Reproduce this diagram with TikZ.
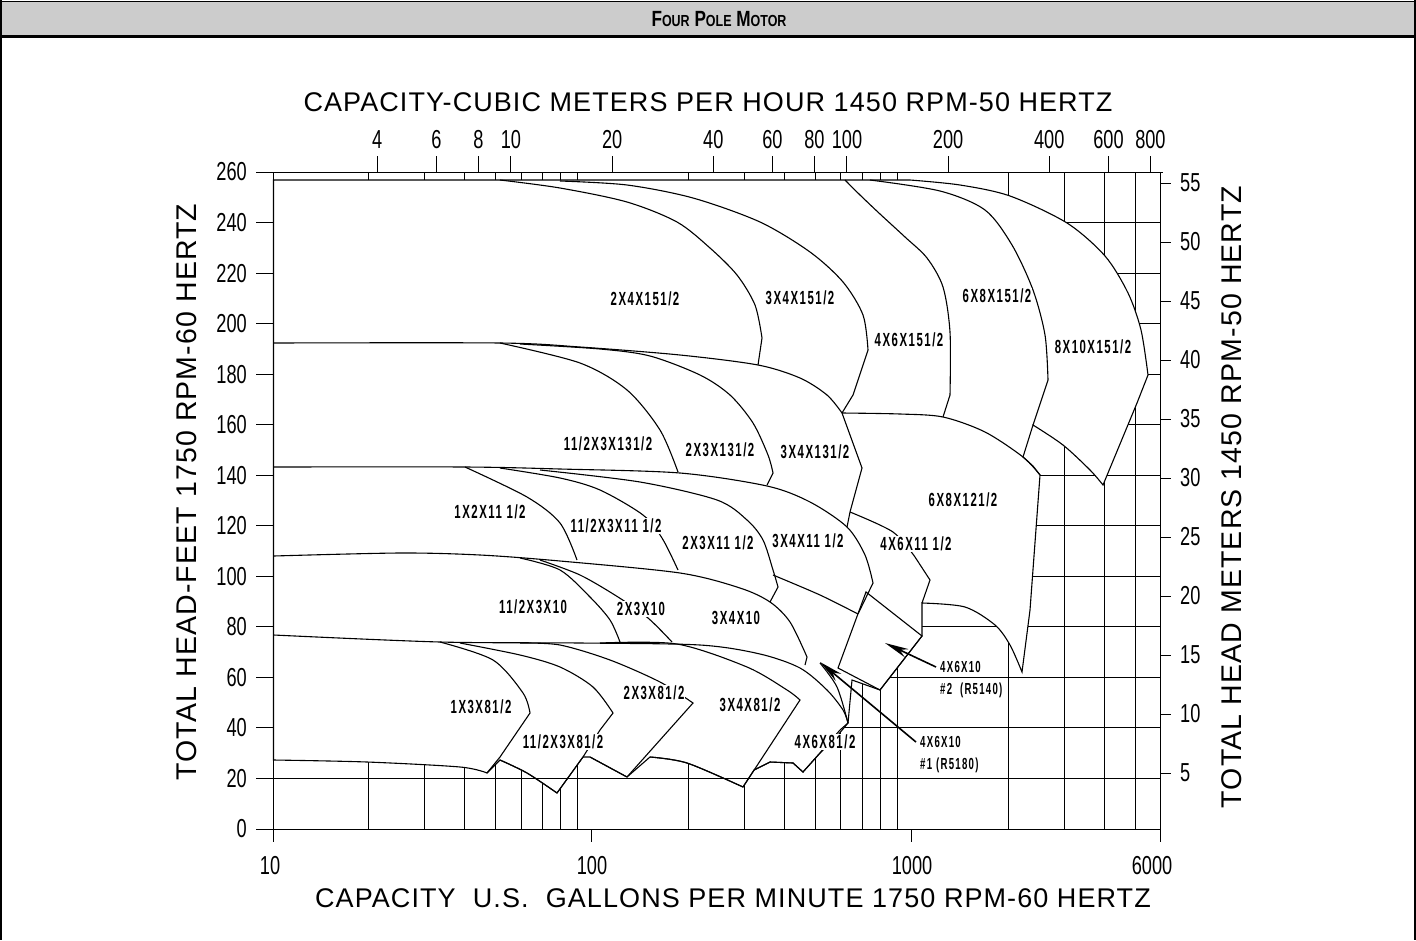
\documentclass[tikz,border=0pt]{standalone}
\usepackage{fontspec}
\setmainfont{Liberation Sans}
\newfontfamily\narrowf[FakeStretch=0.7]{Liberation Sans}
\newfontfamily\pumpf[FakeStretch=0.6,LetterSpace=8]{Liberation Sans}
\newfontfamily\titlef[LetterSpace=4]{Liberation Sans}
\newfontfamily\headf[FakeStretch=0.78]{Liberation Sans}
\usetikzlibrary{arrows.meta}
\definecolor{hdr}{HTML}{CCCCCC}
\begin{document}
\begin{tikzpicture}[x=1pt,y=-1pt,
  gridl/.style={line width=1.1pt},
  crv/.style={line width=1.1pt},
  pl/.style={font=\pumpf\bfseries\fontsize{19}{19}\selectfont, fill=white, inner sep=1pt},
  tl/.style={font=\narrowf\fontsize{26}{26}\selectfont, inner sep=0pt},
  ttl/.style={font=\titlef\fontsize{27}{27}\selectfont, inner sep=0pt},
  nt/.style={font=\pumpf\bfseries\fontsize{16}{16}\selectfont, inner sep=0pt, anchor=west},
  arr/.style={line width=1.6pt, -{Stealth[length=24pt,width=9pt]}}]
\useasboundingbox (0,0) rectangle (1416,940);
% header
\fill[hdr] (1,2) rectangle (1415,36);
\draw[line width=1.2pt] (0,1.5) -- (1416,1.5);
\draw[line width=2.4pt] (0,36.5) -- (1416,36.5);
\draw[line width=1.2pt] (1,0) -- (1,940);
\draw[line width=1.2pt] (1415,0) -- (1415,940);
\node[font=\headf\bfseries, inner sep=0pt] (head) at (719,19)
  {\fontsize{22}{22}\selectfont F\fontsize{16}{16}\selectfont OUR\fontsize{22}{22}\selectfont\ P\fontsize{16}{16}\selectfont OLE\fontsize{22}{22}\selectfont\ M\fontsize{16}{16}\selectfont OTOR};

% ---------- grid ----------
\foreach \q in {20,30,40,50,60,70,80,90,200,300,400,500,600,700,800,900,2000,3000,4000,5000}
  \draw[gridl] ({floor(272+320*log10(\q/10))+0.5},172.5) -- ({floor(272+320*log10(\q/10))+0.5},829.5);
\foreach \h in {40,60,...,240}
  \draw[gridl] (273.5,{floor(829-2.527*\h)+0.5}) -- (1160.5,{floor(829-2.527*\h)+0.5});

% ---------- envelope (white) ----------
\path[fill=white, draw=black, crv]
  (273.5,180) -- (910,180)
  -- plot[smooth] coordinates {(910,180) (960,185) (1010,196) (1067,223) (1105,256) (1128,293) (1141,330) (1148,375)}
  -- (1137,403) -- (1103,485)
  -- plot[smooth] coordinates {(1103,485) (1090,470) (1063,445) (1033,425)}
  -- (1023,457) -- (1033,466) -- (1040,475) -- (1030,610) -- (1022,672)
  -- plot[smooth] coordinates {(1022,672) (1010,645) (995,625) (965,607) (922,603)}
  -- (922,636) -- (880,690) -- (852,680) -- (848,723) -- (838,735) -- (820,753) -- (803,772) -- (793,763)
  -- (770,762) -- (754,770) -- (743,787)
  -- plot[smooth] coordinates {(743,787) (687,763) (650,757)}
  -- (627,777) -- (590,757) -- (583,757) -- (557,793)
  -- plot[smooth] coordinates {(557,793) (527,773) (500,760)}
  -- (487,773)
  -- plot[smooth] coordinates {(487,773) (460,767) (367,762) (273.5,760)}
  -- cycle;

% ---------- axes ----------
\draw[gridl] (256,172.5) -- (1163,172.5);
\draw[gridl] (273.5,172.5) -- (273.5,842);
\draw[gridl] (1160.5,172.5) -- (1160.5,842);
\draw[gridl] (256,829.5) -- (1160.5,829.5);
\draw[gridl] (256,{floor(829-2.527*20)+0.5}) -- (1160.5,{floor(829-2.527*20)+0.5});
\foreach \h in {40,60,...,240}
  \draw[gridl] (256,{floor(829-2.527*\h)+0.5}) -- (273.5,{floor(829-2.527*\h)+0.5});
\foreach \q in {100,1000}
  \draw[gridl] ({floor(272+320*log10(\q/10))+0.5},829.5) -- ({floor(272+320*log10(\q/10))+0.5},842);
\foreach \m in {5,10,...,55}
  \draw[gridl] (1160.5,{floor(183+(55-\m)*11.8)+0.5}) -- (1171,{floor(183+(55-\m)*11.8)+0.5});
\foreach \q in {4,6,8,10,20,40,60,80,100,200,400,600,800}
  \draw[gridl] ({floor(175+336*log10(\q))+0.5},172.5) -- ({floor(175+336*log10(\q))+0.5},156);

% tick labels
\foreach \h in {0,20,...,260}
  \node[tl, anchor=east] (yl\h) at (247,{829-2.527*\h}) {\h};
\foreach \m in {5,10,...,55}
  \node[tl, anchor=west] (ml\m) at (1180,{183+(55-\m)*11.8}) {\m};
\foreach \q in {4,6,8,10,20,40,60,80,100,200,400,600,800}
  \node[tl] (tq\q) at ({175+336*log10(\q)},140) {\q};
\node[tl] (bx1) at (270,866) {10};
\node[tl] (bx2) at (592,866) {100};
\node[tl] (bx3) at (912,866) {1000};
\node[tl] (bx4) at (1152,866) {6000};

% titles
\node[ttl] (ttop) at (708,102) {CAPACITY-CUBIC METERS PER HOUR 1450 RPM-50 HERTZ};
\node[ttl] (tbot) at (733,898) {CAPACITY\ \ U.S.\ \ GALLONS PER MINUTE 1750 RPM-60 HERTZ};
\node[ttl, rotate=90, font=\titlef\fontsize{28.5}{28.5}\selectfont] (tleft) at (187,492) {TOTAL HEAD-FEET 1750 RPM-60 HERTZ};
\node[ttl, rotate=90, font=\titlef\fontsize{28.5}{28.5}\selectfont] (tright) at (1232,497) {TOTAL HEAD METERS 1450 RPM-50 HERTZ};

% ---------- pump curves ----------
% 15 1/2
\draw[crv] plot[smooth] coordinates {(500,180) (560,188) (627,202) (677,222) (710,248) (737,275) (755,305) (762,338)} -- (758,365);
\draw[crv] plot[smooth] coordinates {(560,181) (627,185) (693,198) (760,222) (810,252) (843,282) (863,315) (868,350)} -- (853,395) -- (842,413);
\draw[crv] plot[smooth] coordinates {(845,180) (860,195) (880,214) (905,237) (927,258) (943,287) (950,332) (950,395)} -- (943,417);
\draw[crv] plot[smooth] coordinates {(870,180) (940,191) (985,210) (1012,245) (1033,290) (1045,335) (1048,380)} -- (1033,425);
% 13 1/2
\draw[crv] plot[smooth] coordinates {(273.5,343) (500,343) (580,347) (680,355) (758,365) (800,378) (827,395) (842,413)};
\draw[crv] plot[smooth] coordinates {(500,343) (580,363) (627,390) (660,430) (678,472)};
\draw[crv] plot[smooth] coordinates {(520,344) (600,349) (650,356) (700,375) (730,395) (753,423) (768,455) (773,473)} -- (767,485);
\draw[crv] (842,413) -- (862,468) -- (850,512) -- (847,527);
% 12 1/2
\draw[crv] plot[smooth] coordinates {(842,413) (900,414) (943,417) (985,432) (1023,457) (1040,475)};
% 11 1/2
\draw[crv] plot[smooth] coordinates {(273.5,467) (465,467) (560,469) (680,473) (767,486) (810,502) (847,527) (865,555) (873,583)} -- (858,614);
\draw[crv] plot[smooth] coordinates {(465,467) (527,497) (560,523) (577,560)};
\draw[crv] plot[smooth] coordinates {(500,468) (560,478) (600,490) (643,515) (662,538) (678,570)};
\draw[crv] plot[smooth] coordinates {(540,470) (640,482) (717,500) (747,520) (763,540) (773,570) (778,587)} -- (770,602);
\draw[crv] plot[smooth] coordinates {(850,512) (893,532) (915,557)} -- (930,580) -- (922,603);
% 10
\draw[crv] plot[smooth] coordinates {(273.5,556) (400,553) (480,555) (560,561) (680,573) (740,588) (770,602) (790,622) (807,657)} -- (805,665);
\draw[crv] plot[smooth] coordinates {(520,558) (560,570) (590,597) (610,620) (620,642)};
\draw[crv] plot[smooth] coordinates {(540,560) (580,575) (618,597) (648,618) (672,642)};
\draw[crv] plot[smooth] coordinates {(773,575) (820,595) (858,614)};
\draw[crv] (866,592) -- (922,636) -- (880,690) -- (838,668) -- cycle;
\draw[crv] plot[smooth] coordinates {(820,663) (837,687) (848,723)};
% 8 1/2
\draw[crv] plot[smooth] coordinates {(273.5,635) (440,642) (580,643) (700,645) (760,654) (800,668) (827,690) (843,710) (848,723)};
\draw[crv] plot[smooth] coordinates {(440,642) (493,660) (523,693) (530,713)} -- (500,757) -- (487,773);
\draw[crv] plot[smooth] coordinates {(460,643) (520,655) (560,667) (593,687) (613,713)} -- (600,730) -- (583,757) -- (557,793);
\draw[crv] plot[smooth] coordinates {(500,760) (527,773) (557,793)};
\draw[crv] plot[smooth] coordinates {(520,643) (560,645) (610,660) (660,682) (693,703)} -- (627,777);
\draw[crv] (590,757) -- (627,777);
\draw[crv] plot[smooth] coordinates {(600,643) (677,644) (747,667) (787,690) (800,700)} -- (743,787);
\draw[crv] plot[smooth] coordinates {(650,757) (687,763) (743,787)};
\draw[crv] (754,770) -- (770,762) -- (793,763) -- (803,772) -- (820,753) -- (840,730) -- (848,723);

% ---------- labels ----------
\node[pl] (p1) at (645,299) {2X4X151/2};
\node[pl] (p2) at (800,298) {3X4X151/2};
\node[pl] (p3) at (909,340) {4X6X151/2};
\node[pl] (p4) at (997,296) {6X8X151/2};
\node[pl] (p5) at (1093,347) {8X10X151/2};
\node[pl] (p6) at (608,444) {11/2X3X131/2};
\node[pl] (p7) at (720,450) {2X3X131/2};
\node[pl] (p8) at (815,452) {3X4X131/2};
\node[pl] (p9) at (963,500) {6X8X121/2};
\node[pl] (p10) at (490,512) {1X2X11 1/2};
\node[pl] (p11) at (616,526) {11/2X3X11 1/2};
\node[pl] (p12) at (718,543) {2X3X11 1/2};
\node[pl] (p13) at (808,541) {3X4X11 1/2};
\node[pl] (p14) at (916,544) {4X6X11 1/2};
\node[pl] (p15) at (533,607) {11/2X3X10};
\node[pl] (p16) at (641,609) {2X3X10};
\node[pl] (p17) at (736,618) {3X4X10};
\node[pl] (p18) at (481,707) {1X3X81/2};
\node[pl] (p19) at (563,742) {11/2X3X81/2};
\node[pl] (p20) at (654,693) {2X3X81/2};
\node[pl] (p21) at (750,705) {3X4X81/2};
\node[pl] (p22) at (825,742) {4X6X81/2};

\node[nt] (n2a) at (940,667) {4X6X10};
\node[nt] (n2b) at (940,690) {\#2\ \ (R5140)};
\node[nt] (n1a) at (920,742) {4X6X10};
\node[nt] (n1b) at (920,765) {\#1 (R5180)};
\coordinate (t2) at (885,643);
\coordinate (t1) at (820,662);
\draw[arr] ([xshift=-4pt]n2a.west) -- (t2);
\draw[arr] ([xshift=-4pt]n1a.west) -- (t1);
\end{tikzpicture}
\end{document}
